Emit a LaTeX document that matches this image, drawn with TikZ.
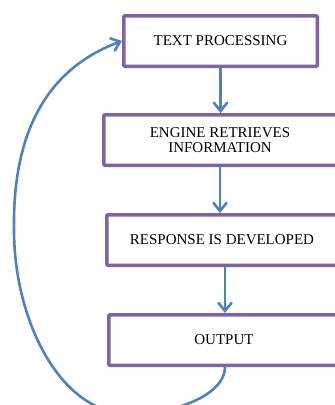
\documentclass[tikz,border=0pt]{standalone}
\usepackage{fontspec}
\setmainfont{Liberation Serif}
\usetikzlibrary{arrows.meta}
\definecolor{boxpurple}{RGB}{128,100,162}
\definecolor{arrblue}{RGB}{79,129,189}
\begin{document}
\begin{tikzpicture}[x=1pt,y=-1pt,
  box/.style={draw=boxpurple, line width=3.5pt, rounded corners=1pt, fill=white,
    font=\fontsize{15}{15}\selectfont, align=center, inner sep=0pt, minimum height=50.5pt},
  arr/.style={draw=arrblue, line width=2.6pt, line cap=round,
    -{Straight Barb[length=8pt,width=13pt,line cap=round]}}]
\useasboundingbox (0,0) rectangle (335,405);
\clip (0,0) rectangle (335,405);
\node[box, minimum width=193.5pt] (tp) at (220.5,41) {TEXT PROCESSING};
\node[box, minimum width=240.5pt] (er) at (224,140) {\hspace*{-8pt}ENGINE RETRIEVES\\\hspace*{-8pt}INFORMATION};
\node[box, minimum width=240.5pt] (rd) at (227,240) {\hspace*{-10pt}RESPONSE IS DEVELOPED};
\node[box, minimum width=240.5pt] (out) at (229,340) {\hspace*{-10pt}OUTPUT};
\coordinate (a2) at ([xshift=-4pt]er.south);
\coordinate (a3) at ([xshift=-2pt]rd.south);
\draw[arr] (tp.south) -- (tp.south |- er.north);
\draw[arr] (a2) -- (a2 |- rd.north);
\draw[arr] (a3) -- (a3 |- out.north);
\coordinate (bot) at (130,414);
\coordinate (left) at (14,230);
\draw[arr] ([xshift=-4pt]out.south) .. controls (225,395) and (175,414) .. (bot)
  .. controls (60,414) and (14,320) .. (left)
  .. controls (12,110) and (65,62) .. (tp.west);
\end{tikzpicture}
\end{document}
